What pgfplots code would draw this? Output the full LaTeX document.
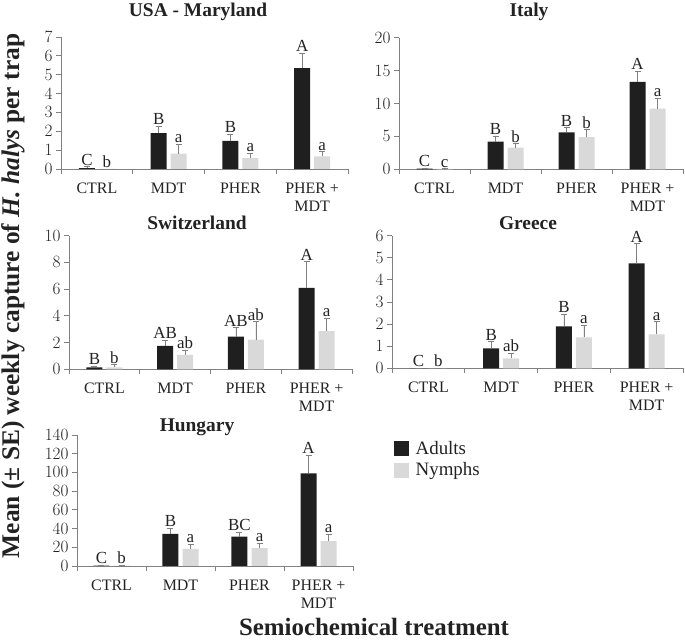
\documentclass[border=0pt]{standalone}
\usepackage{fontspec}
\setmainfont{Liberation Serif}
\usepackage{pgfplots}
\usepackage{pgfplotstable}
\pgfplotsset{compat=1.18}
\definecolor{adult}{HTML}{1F1F1F}
\definecolor{nymph}{HTML}{D9D9D9}
\definecolor{axgray}{HTML}{808080}
\definecolor{txt}{HTML}{222222}

\pgfplotstableread{
x a ae n ne la ln
0 0.05 0.07 0.0 0.0 C b
1 1.9 0.38 0.82 0.5 B a
2 1.49 0.36 0.58 0.27 B a
3 5.35 0.78 0.67 0.25 A a
}\tblUSA
\pgfplotstableread{
x a ae n ne la ln
0 0.1 0.05 0.05 0.03 C c
1 4.2 0.8 3.3 0.6 B b
2 5.6 0.7 4.9 1.1 B b
3 13.3 1.6 9.2 1.6 A a
}\tblITA
\pgfplotstableread{
x a ae n ne la ln
0 0.15 0.1 0.15 0.2 B b
1 1.75 0.42 1.07 0.38 AB ab
2 2.44 0.68 2.22 1.35 AB ab
3 6.1 1.95 2.85 0.95 A a
}\tblSUI
\pgfplotstableread{
x a ae n ne la ln
0 0 0 0 0 C b
1 0.9 0.3 0.45 0.22 B ab
2 1.9 0.55 1.4 0.55 B a
3 4.75 0.9 1.54 0.57 A a
}\tblGRE
\pgfplotstableread{
x a ae n ne la ln
0 0.5 0.3 0.3 0.2 C b
1 34.2 6 18.2 5 B a
2 31.3 5 19.2 5 BC a
3 99 19.5 26.7 7 A a
}\tblHUN

\newcommand{\ticksize}{\fontsize{16}{18}\selectfont}
\newcommand{\titlefont}{\fontsize{19.5}{22}\selectfont\bfseries}
\pgfplotsset{
  panel/.style={
    scale only axis, clip=false,
    axis lines*=left,
    axis line style={axgray, line width=0.8bp},
    xmin=-0.5, xmax=3.5, ymin=0,
    xtick={0,1,2,3},
    xticklabels={CTRL,MDT,PHER,{PHER +\\MDT}},
    major x tick style={draw=none},
    minor xtick={-0.5,0.5,1.5,2.5,3.5},
    tick align=outside,
    tick style={axgray, line width=0.8bp},
    major tick length=5bp, minor tick length=5bp,
    xticklabel style={align=center, font=\ticksize, text=txt, yshift=-5.5bp},
    yticklabel style={font=\ticksize, text=txt},
  },
  ebar/.style={error bars/.cd, y dir=plus, y explicit,
    error bar style={axgray, line width=0.7bp},
    error mark options={rotate=90, axgray, mark size=3bp, line width=0.7bp}},
  abar/.style={ybar, bar width=16bp, bar shift=0pt, fill=adult, draw=none, ebar},
  nbar/.style={ybar, bar width=16bp, bar shift=0pt, fill=nymph, draw=none, ebar},
  lbl/.style={draw=none, mark=none, nodes near coords, point meta=explicit symbolic,
    nodes near coords style={anchor=south, font=\fontsize{17}{19}\selectfont, text=txt, inner sep=1.2bp}},
}
% #1 table, #2 half offset in data units
\newcommand{\panelplots}[2]{%
  \addplot[abar] table[x expr=\thisrow{x}-#2, y=a, y error=ae] {#1};
  \addplot[nbar] table[x expr=\thisrow{x}+#2, y=n, y error=ne] {#1};
  \addplot[lbl] table[x expr=\thisrow{x}-#2, y expr=\thisrow{a}+\thisrow{ae}, meta=la] {#1};
  \addplot[lbl] table[x expr=\thisrow{x}+#2, y expr=\thisrow{n}+\thisrow{ne}, meta=ln] {#1};
}

\begin{document}
\begin{tikzpicture}[x=1bp,y=1bp]
\path[use as bounding box] (0,0) rectangle (685,640);

% USA
\begin{axis}[panel, at={(61bp,471bp)}, anchor=south west, width=287bp, height=132bp,
  ymax=7, ytick={0,1,...,7}]
\panelplots{\tblUSA}{0.139}
\end{axis}

% Italy
\begin{axis}[panel, at={(399bp,470.7bp)}, anchor=south west, width=284bp, height=131.6bp,
  ymax=20, ytick={0,5,...,20}]
\panelplots{\tblITA}{0.141}
\end{axis}

% Switzerland
\begin{axis}[panel, at={(69bp,270.7bp)}, anchor=south west, width=283bp, height=133.6bp,
  ymax=10, ytick={0,2,...,10}]
\panelplots{\tblSUI}{0.141}
\end{axis}

% Greece
\begin{axis}[panel, at={(392bp,271.7bp)}, anchor=south west, width=291bp, height=132.6bp,
  ymax=6, ytick={0,1,...,6}]
\panelplots{\tblGRE}{0.137}
\end{axis}

% Hungary
\begin{axis}[panel, at={(77bp,74bp)}, anchor=south west, width=276bp, height=131bp,
  ymax=140, ytick={0,20,...,140},
  legend style={at={(axis description cs:1.1486,0.954)}, anchor=north west,
    draw=none, fill=none, inner sep=0pt, row sep=7bp,
    font=\fontsize{19}{21}\selectfont, text=txt,
    nodes={inner sep=0pt, text=txt}},
  legend cell align=left,
  legend columns=1,
  /tikz/every odd column/.append style={column sep=7bp}]
\addlegendimage{legend image code/.code={\fill[adult] (0bp,-7bp) rectangle (14bp,7bp);}}
\addlegendentry{Adults}
\addlegendimage{legend image code/.code={\fill[nymph] (0bp,-7bp) rectangle (14bp,7bp);}}
\addlegendentry{Nymphs}
\panelplots{\tblHUN}{0.145}
\end{axis}

% panel titles
\node[anchor=base, inner sep=0pt, font=\titlefont, text=txt] at (198,623.3) {USA - Maryland};
\node[anchor=base, inner sep=0pt, font=\titlefont, text=txt] at (529,623.3) {Italy};
\node[anchor=base, inner sep=0pt, font=\titlefont, text=txt] at (197,410.7) {Switzerland};
\node[anchor=base, inner sep=0pt, font=\titlefont, text=txt] at (528,410) {Greece};
\node[anchor=base, inner sep=0pt, font=\titlefont, text=txt] at (197,208.3) {Hungary};

\node[rotate=90, inner sep=0pt, font=\fontsize{25.5}{28}\selectfont\bfseries, text=txt] at (13,344)
  {Mean (± SE) weekly capture of \textit{H. halys} per trap};
\node[anchor=base, inner sep=0pt, font=\fontsize{25}{28}\selectfont\bfseries, text=txt] at (374,4.5)
  {Semiochemical treatment};
\end{tikzpicture}
\end{document}
